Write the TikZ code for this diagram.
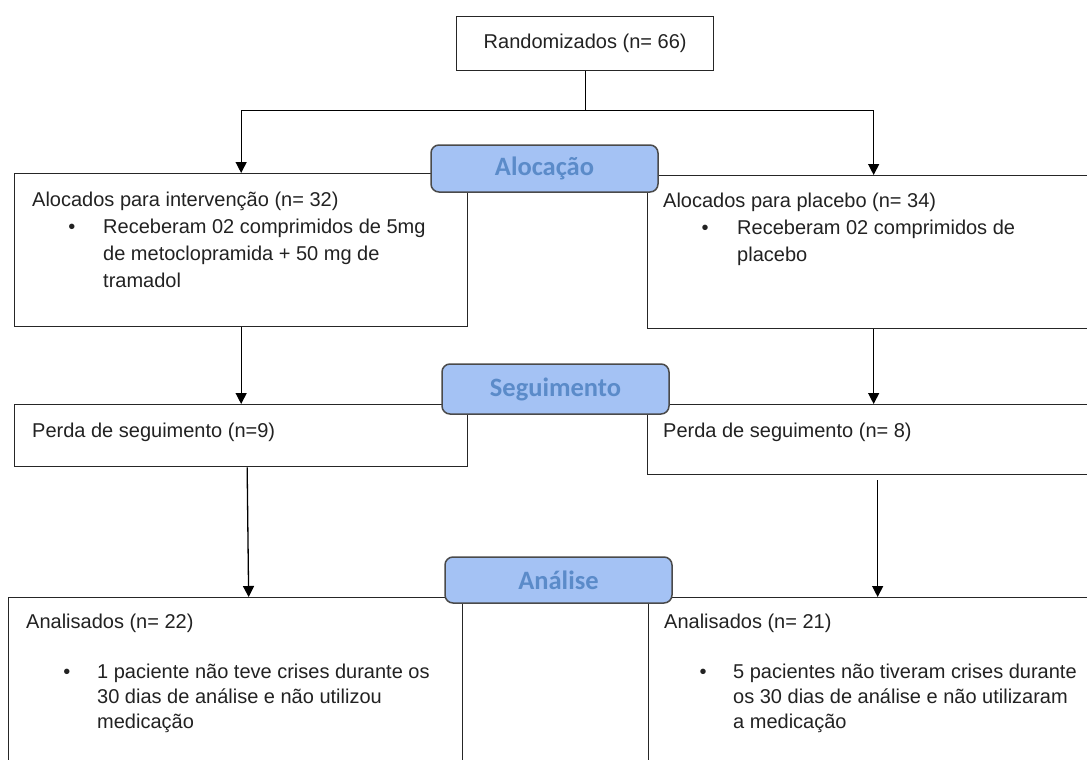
\documentclass[tikz,border=0pt]{standalone}
\usepackage{fontspec}
\setmainfont{Liberation Sans}
\newfontfamily\labelfont{Carlito}
\usetikzlibrary{arrows.meta}
\definecolor{lblfill}{HTML}{A4C2F4}
\definecolor{lbltext}{HTML}{5B8BC9}
\definecolor{lbledge}{HTML}{4A4A4A}
\definecolor{txt}{HTML}{222222}
\begin{document}
\begin{tikzpicture}[x=1bp,y=-1bp,
  box/.style={draw=black!85, line width=1.3bp, inner sep=0pt, anchor=north west, text=txt, font=\fontsize{20bp}{26bp}\selectfont},
  lbl/.style={draw=lbledge, line width=1.5bp, fill=lblfill, rounded corners=8bp, inner sep=0pt, text=lbltext, font=\labelfont\bfseries\fontsize{26.5bp}{30bp}\selectfont},
  t/.style={anchor=base west, inner sep=0pt, text=txt, font=\fontsize{20bp}{26bp}\selectfont},
  bul/.style={anchor=base, inner sep=0pt, text=txt, font=\fontsize{20bp}{26bp}\selectfont},
  arr/.style={draw=black, line width=1.3bp, -{Triangle[width=11bp,length=11bp]}},
  ln/.style={draw=black, line width=1.3bp}]
\useasboundingbox (0,0) rectangle (1087,760);
\clip (0,0) rectangle (1087,760);
\fill[white] (0,0) rectangle (1087,760);

% boxes
\node[box, minimum width=257bp, minimum height=54bp] (rand) at (456,16) {Randomizados (n= 66)};
\node[box, minimum width=453bp, minimum height=153bp] (allocL) at (14,173) {};
\node[box, minimum width=452bp, minimum height=153bp] (allocR) at (647,175) {};
\node[box, minimum width=453bp, minimum height=62bp] (perdaL) at (14,404) {};
\node[box, minimum width=460bp, minimum height=70bp] (perdaR) at (647,404) {};
\node[box, minimum width=454bp, minimum height=220bp] (anaL) at (8,597) {};
\node[box, minimum width=458bp, minimum height=220bp] (anaR) at (648,597) {};

% connectors
\coordinate (split) at ([yshift=-39bp]rand.south);
\draw[ln] (rand.south) -- (split);
\draw[arr] (split) -| (allocL.north);
\draw[arr] (split) -| (allocR.north);
\draw[arr] (allocL.south) -- (perdaL.north);
\draw[arr] (allocR.south) -- ([xshift=-4bp]perdaR.north);
\draw[arr] ([xshift=6bp]perdaL.south) -- ([xshift=13bp]anaL.north);
\draw[arr] ([yshift=-5bp]perdaR.south) -- (anaR.north);

% phase labels
\node[lbl, minimum width=227bp, minimum height=47bp] (aloc) at (544.5,168.5) {Alocação};
\node[lbl, minimum width=227bp, minimum height=50bp] (seg) at (555.5,389) {Seguimento};
\node[lbl, minimum width=227bp, minimum height=46bp] (anal) at (558.5,580) {Análise};

% texts: allocation
\node[t] (aLt) at (32,206) {Alocados para intervenção (n= 32)};
\node[bul] (aLb) at (72,233) {•};
\node[t] (aL1) at (103,233) {Receberam 02 comprimidos de 5mg};
\node[t] (aL2) at (103,260) {de metoclopramida + 50 mg de};
\node[t] (aL3) at (103,287) {tramadol};

\node[t] (aRt) at (663,207) {Alocados para placebo (n= 34)};
\node[bul] (aRb) at (705,234) {•};
\node[t] (aR1) at (737,234) {Receberam 02 comprimidos de};
\node[t] (aR2) at (737,261) {placebo};

% texts: follow-up
\node[t] (pLt) at (32,437) {Perda de seguimento (n=9)};
\node[t] (pRt) at (663,437) {Perda de seguimento (n= 8)};

% texts: analysis
\node[t] (nLt) at (26,628) {Analisados (n= 22)};
\node[bul] (nLb) at (67,678) {•};
\node[t] (nL1) at (97,678) {1 paciente não teve crises durante os};
\node[t] (nL2) at (97,703) {30 dias de análise e não utilizou};
\node[t] (nL3) at (97,728) {medicação};

\node[t] (nRt) at (664,628) {Analisados (n= 21)};
\node[bul] (nRb) at (703,678) {•};
\node[t] (nR1) at (733,678) {5 pacientes não tiveram crises durante};
\node[t] (nR2) at (733,703) {os 30 dias de análise e não utilizaram};
\node[t] (nR3) at (733,728) {a medicação};
\end{tikzpicture}
\end{document}
